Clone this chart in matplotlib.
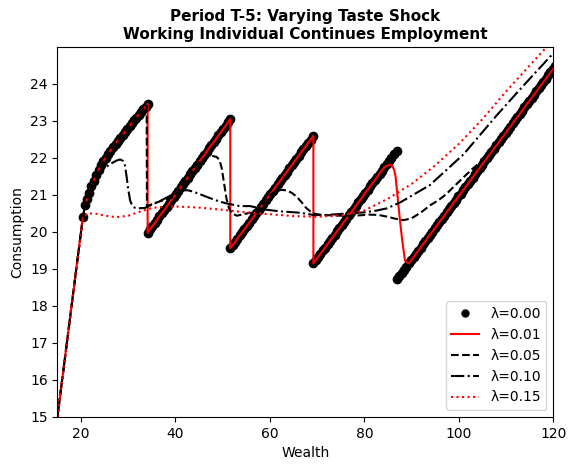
import numpy as np
import matplotlib.pyplot as plt

# lambda = 0.00 : the dots, one list per branch of the sawtooth
w_seg1 = [20.4, 20.85, 21.3, 21.7, 22.2, 22.7, 23.2, 23.7, 24.2, 24.7, 25.2, 25.7, 26.2, 26.8,
          27.3, 27.8, 28.3, 28.8, 29.3, 29.8, 30.3, 30.7, 31.2, 31.7, 32.2, 32.7, 33.2, 33.7, 34.1]
c_seg1 = [20.41, 20.73, 20.90, 21.05, 21.23, 21.38, 21.54, 21.68, 21.80, 21.91, 22.01, 22.11, 22.20, 22.30,
          22.39, 22.47, 22.55, 22.63, 22.71, 22.79, 22.87, 22.94, 23.02, 23.09, 23.17, 23.24, 23.32, 23.39, 23.46]

w_seg2 = [34.1, 34.6, 35.1, 35.6, 36.1, 36.6, 37.1, 37.6, 38.1, 38.6, 39.1, 39.6, 40.1, 40.6, 41.1, 41.6, 42.1, 42.6,
          43.1, 43.6, 44.1, 44.6, 45.1, 45.6, 46.1, 46.6, 47.1, 47.6, 48.1, 48.6, 49.1, 49.6, 50.1, 50.6, 51.1, 51.6]
c_seg2 = [19.98, 20.07, 20.16, 20.24, 20.33, 20.42, 20.51, 20.59, 20.68, 20.77, 20.86, 20.94, 21.03, 21.12, 21.21, 21.30, 21.38, 21.47,
          21.56, 21.65, 21.73, 21.82, 21.91, 22.00, 22.08, 22.17, 22.26, 22.35, 22.43, 22.52, 22.61, 22.70, 22.78, 22.87, 22.96, 23.05]

w_seg3 = [51.6, 52.1, 52.6, 53.1, 53.6, 54.1, 54.6, 55.1, 55.6, 56.1, 56.6, 57.1, 57.6, 58.1, 58.6, 59.1, 59.6, 60.1,
          60.6, 61.1, 61.6, 62.1, 62.6, 63.1, 63.6, 64.1, 64.6, 65.1, 65.6, 66.1, 66.6, 67.1, 67.6, 68.1, 68.6, 69.2]
c_seg3 = [19.56, 19.65, 19.73, 19.82, 19.91, 19.99, 20.08, 20.16, 20.25, 20.34, 20.42, 20.51, 20.60, 20.68, 20.77, 20.86, 20.94, 21.03,
          21.11, 21.20, 21.29, 21.37, 21.46, 21.55, 21.63, 21.72, 21.80, 21.89, 21.98, 22.06, 22.15, 22.24, 22.32, 22.41, 22.49, 22.60]

w_seg4 = [69.2, 69.7, 70.2, 70.7, 71.2, 71.7, 72.2, 72.7, 73.2, 73.7, 74.2, 74.7, 75.2, 75.7, 76.2, 76.7, 77.2, 77.7,
          78.2, 78.7, 79.2, 79.7, 80.2, 80.7, 81.2, 81.7, 82.2, 82.7, 83.2, 83.7, 84.2, 84.7, 85.2, 85.7, 86.2, 86.8]
c_seg4 = [19.15, 19.24, 19.32, 19.41, 19.50, 19.58, 19.67, 19.76, 19.84, 19.93, 20.02, 20.10, 20.19, 20.28, 20.36, 20.45, 20.54, 20.62,
          20.71, 20.80, 20.88, 20.97, 21.06, 21.14, 21.23, 21.32, 21.40, 21.49, 21.58, 21.66, 21.75, 21.84, 21.92, 22.01, 22.10, 22.20]

w_seg5 = [86.9, 87.4, 87.9, 88.4, 88.9, 89.4, 89.9, 90.4, 90.9, 91.4, 91.9, 92.4, 92.9, 93.4, 93.9, 94.4, 94.9, 95.4,
          95.9, 96.4, 96.9, 97.4, 97.9, 98.4, 98.9, 99.4, 99.9, 100.4, 100.9, 101.4, 101.9, 102.4, 102.9, 103.4, 103.9,
          104.4, 104.9, 105.4, 105.9, 106.4, 106.9, 107.4, 107.9, 108.4, 108.9, 109.4, 109.9, 110.4, 110.9, 111.4,
          111.9, 112.4, 112.9, 113.4, 113.9, 114.4, 114.9, 115.4, 115.9, 116.4, 116.9, 117.4, 117.9, 118.4, 118.9,
          119.4, 119.9, 120.4]
c_seg5 = [18.72, 18.81, 18.89, 18.98, 19.06, 19.15, 19.24, 19.32, 19.41, 19.49, 19.58, 19.67, 19.75, 19.84, 19.93, 20.01, 20.10, 20.18,
          20.27, 20.36, 20.44, 20.53, 20.61, 20.70, 20.79, 20.87, 20.96, 21.04, 21.13, 21.22, 21.30, 21.39, 21.47, 21.56, 21.65,
          21.73, 21.82, 21.91, 21.99, 22.08, 22.16, 22.25, 22.34, 22.42, 22.51, 22.59, 22.68, 22.77, 22.85, 22.94,
          23.03, 23.11, 23.20, 23.28, 23.37, 23.46, 23.54, 23.63, 23.71, 23.80, 23.89, 23.97, 24.06, 24.14, 24.23,
          24.32, 24.40, 24.49]

# start of the curve, shared by every line (consume everything)
w_start = [15.0]
c_start = [15.0]

# lambda = 0.01 : smooth drop near 87
w_01_kink = [84.8, 85.4, 85.9, 86.3, 86.6, 87.0, 87.5, 88.0, 88.6]
c_01_kink = [21.79, 21.82, 21.79, 21.68, 21.50, 21.00, 20.35, 19.78, 19.22]

# lambda = 0.05
w_05_a = [33.9, 33.95, 35.0, 36.5, 38.0, 39.0]
c_05_a = [23.42, 20.70, 20.75, 20.82, 20.88, 20.92]
w_05_b = [45.5, 46.6, 47.6, 48.7, 49.3, 49.8, 50.3, 50.8, 51.3, 52.0, 53.0, 54.4, 55.8]
c_05_b = [21.93, 22.03, 22.06, 22.03, 21.95, 21.72, 21.30, 20.90, 20.65, 20.50, 20.44, 20.48, 20.52]
w_05_c = [60.6, 61.6, 62.6, 63.6, 64.6, 65.6, 66.6, 67.6, 68.6, 69.6, 71.0, 73.0, 75.0, 77.0, 79.0, 81.0, 83.0,
          85.0, 86.5, 88.3, 90.0, 92.0, 93.9, 95.7, 97.3, 98.9, 101.0, 103.0, 105.0, 107.5, 110.0, 112.5, 115.0,
          117.5, 120.0]
c_05_c = [21.06, 21.12, 21.14, 21.12, 21.06, 20.96, 20.82, 20.66, 20.55, 20.49, 20.46, 20.45, 20.44, 20.44, 20.45, 20.47, 20.46,
          20.41, 20.36, 20.32, 20.37, 20.53, 20.72, 20.86, 21.02, 21.22, 21.48, 21.72, 21.93, 22.36, 22.78, 23.22, 23.65,
          24.08, 24.50]

# lambda = 0.10
w_10 = [24.0, 25.1, 26.5, 27.5, 28.3, 28.9, 29.3, 29.7, 30.0, 30.4, 30.8, 31.3, 32.1, 33.5, 35.0, 36.5, 37.8,
        39.5, 41.0, 42.5, 43.8, 45.2, 47.0, 49.4, 50.9, 53.6, 55.8, 59.3, 62.0, 66.4, 69.2, 72.0, 76.3, 80.0,
        82.6, 84.8, 87.6, 90.0, 93.9, 95.0, 98.0, 101.0, 104.0, 108.0, 112.0, 116.0, 120.0]
c_10 = [21.64, 21.74, 21.86, 21.93, 21.96, 21.92, 21.80, 21.45, 21.14, 20.85, 20.72, 20.66, 20.64, 20.65, 20.74, 20.82, 20.91,
        21.02, 21.12, 21.13, 21.09, 21.02, 20.93, 20.82, 20.77, 20.70, 20.70, 20.60, 20.56, 20.52, 20.46, 20.46, 20.50, 20.53,
        20.58, 20.64, 20.80, 20.98, 21.27, 21.40, 21.75, 22.10, 22.55, 23.15, 23.72, 24.28, 24.83]

# lambda = 0.15
w_15 = [20.4, 21.5, 23.0, 25.0, 27.5, 30.0, 32.5, 35.0, 37.5, 40.0, 45.0, 50.0, 55.0, 60.0, 65.0, 70.0, 75.0,
        80.0, 85.0, 90.0, 95.0, 100.0, 105.0, 110.0, 115.0, 120.0]
c_15 = [20.41, 20.50, 20.50, 20.44, 20.40, 20.44, 20.55, 20.65, 20.68, 20.69, 20.66, 20.60, 20.53, 20.48, 20.43, 20.41, 20.45,
        20.58, 20.90, 21.30, 21.80, 22.38, 23.05, 23.80, 24.50, 25.20]

w_00 = w_seg1 + w_seg2 + w_seg3 + w_seg4 + w_seg5
c_00 = c_seg1 + c_seg2 + c_seg3 + c_seg4 + c_seg5

w_01 = w_start + w_seg1 + w_seg2 + w_seg3 + w_seg4[:31] + w_01_kink + w_seg5[5:]
c_01 = c_start + c_seg1 + c_seg2 + c_seg3 + c_seg4[:31] + c_01_kink + c_seg5[5:]

w_05 = w_start + w_seg1[:28] + w_05_a + w_seg2[11:22] + w_05_b + w_seg3[11:17] + w_05_c
c_05 = c_start + c_seg1[:28] + c_05_a + c_seg2[11:22] + c_05_b + c_seg3[11:17] + c_05_c

w_10 = w_start + w_seg1[:7] + w_10
c_10 = c_start + c_seg1[:7] + c_10

w_15 = w_start + w_15
c_15 = c_start + c_15

fig, ax = plt.subplots(figsize=(5.76, 4.70), dpi=100)
fig.subplots_adjust(left=0.0997, right=0.9606, bottom=0.1128, top=0.9)

ax.plot(w_00, c_00, 'o', color='black', markersize=6, label='λ=0.00')
ax.plot(w_01, c_01, '-', color='red', label='λ=0.01')
ax.plot(w_05, c_05, '--', color='black', label='λ=0.05')
ax.plot(w_10, c_10, '-.', color='black', label='λ=0.10')
ax.plot(w_15, c_15, ':', color='red', label='λ=0.15')

ax.set_xlim(15, 120)
ax.set_ylim(15, 25)
ax.set_yticks(range(15, 25))
ax.set_xlabel('Wealth')
ax.set_ylabel('Consumption')
ax.set_title('Period T-5: Varying Taste Shock\nWorking Individual Continues Employment',
             fontsize=11, fontweight='bold')
ax.legend(loc='lower right', markerscale=5 / 6)

fig.savefig('out.png', dpi=100)
